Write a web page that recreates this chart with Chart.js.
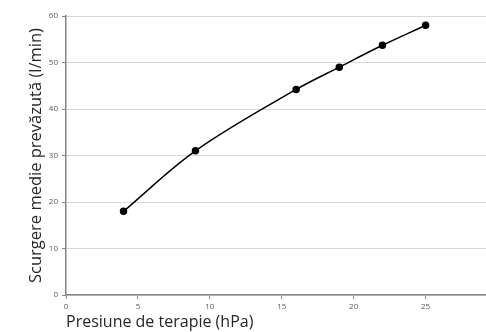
<!DOCTYPE html>
<html>
<head>
<meta charset="utf-8">
<script src="https://cdn.jsdelivr.net/npm/chart.js@4"></script>
<style>
  body { margin: 0; background: #fff; }
</style>
</head>
<body>
<canvas id="flowChart" width="486" height="332"></canvas>
<script>
// Presiune de terapie vs. scurgere medie
const pressure = [4, 9, 16, 19, 22, 25];
const flow = [18, 31, 44.2, 49, 53.7, 58];
const xTicks = [0, 5, 10, 15, 20, 25];

const axisGray = '#868686';

const ctx = document.getElementById('flowChart').getContext('2d');
new Chart(ctx, {
    type: 'line',
    data: {
        datasets: [{
            label: 'Scurgere',
            data: pressure.map((p, i) => ({ x: p, y: flow[i] })),
            borderColor: '#000',
            backgroundColor: '#000',
            borderWidth: 1.5,
            pointRadius: 3,
            tension: 0.35,
            fill: false
        }]
    },
    options: {
        responsive: false,
        animation: false,
        layout: {
            autoPadding: false,
            padding: { top: 16, left: 0, right: 0, bottom: 0 }
        },
        plugins: {
            legend: { display: false },
            tooltip: { enabled: false }
        },
        scales: {
            x: {
                type: 'linear',
                min: 0,
                max: 29.2,
                afterBuildTicks: (scale) => {
                    scale.ticks = xTicks.map(v => ({ value: v }));
                },
                afterFit: (scale) => {
                    scale.height = 37;
                    scale.paddingLeft = 0;
                    scale.paddingRight = 0;
                },
                border: { color: axisGray, width: 1.5 },
                grid: {
                    drawOnChartArea: false,
                    tickColor: axisGray,
                    tickLength: 4
                },
                ticks: {
                    padding: 3,
                    maxRotation: 0,
                    color: '#595959',
                    font: { family: 'Open Sans', size: 8 }
                },
                title: {
                    display: true,
                    text: 'Presiune de terapie (hPa)',
                    align: 'start',
                    color: '#262626',
                    padding: { top: 0, bottom: 0 },
                    font: { family: 'Open Sans', size: 16 }
                }
            },
            y: {
                min: 0,
                max: 60,
                afterFit: (scale) => { scale.width = 66; },
                border: { color: axisGray, width: 1.5 },
                grid: {
                    color: '#d9d9d9',
                    tickColor: axisGray,
                    tickLength: 4
                },
                ticks: {
                    stepSize: 10,
                    padding: 4,
                    color: '#595959',
                    font: { family: 'Open Sans', size: 8 }
                },
                title: {
                    display: true,
                    text: 'Scurgere medie prevăzută (l/min)',
                    color: '#262626',
                    padding: { top: 26, bottom: 0 },
                    font: { family: 'Open Sans', size: 16.5 }
                }
            }
        }
    }
});
</script>
</body>
</html>
